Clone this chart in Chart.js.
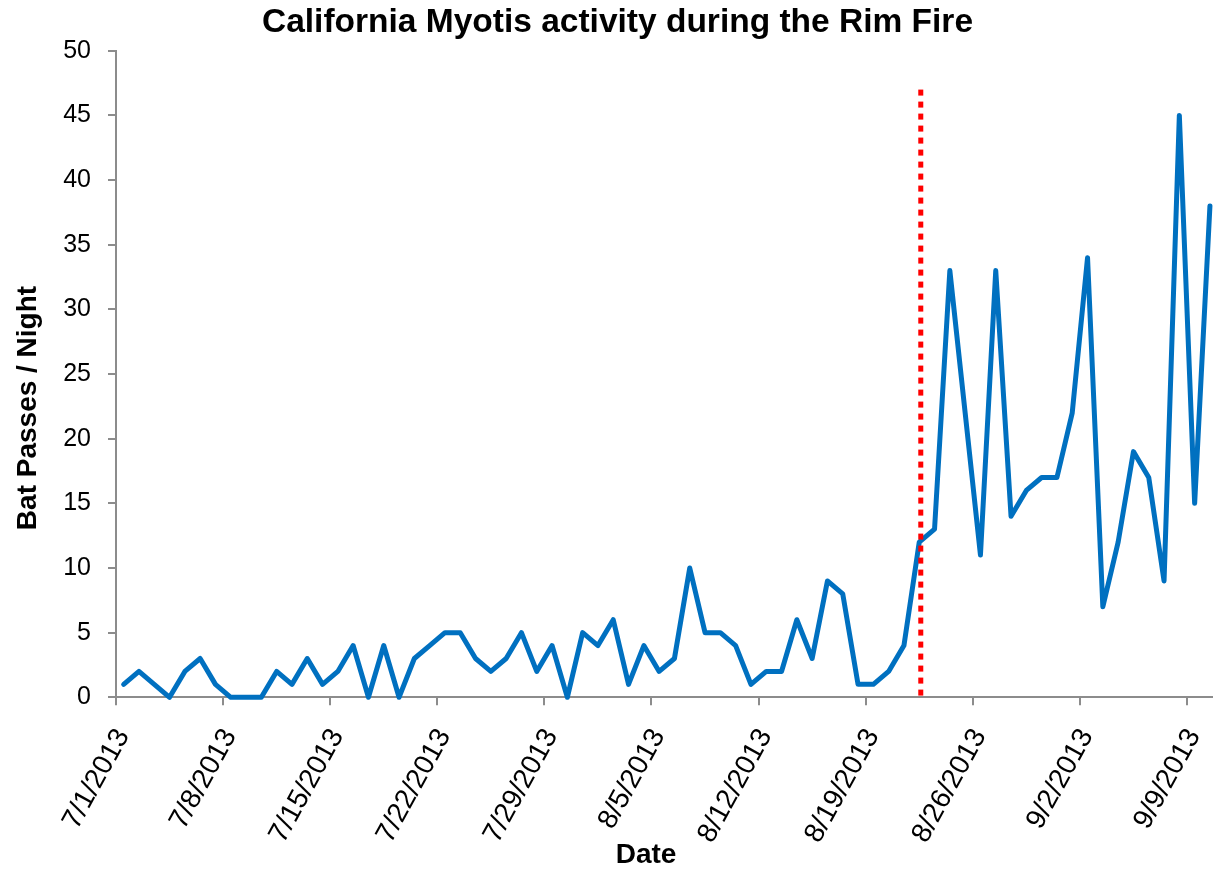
<!DOCTYPE html>
<html>
<head>
<meta charset="utf-8">
<title>California Myotis activity during the Rim Fire</title>
<script src="https://cdn.jsdelivr.net/npm/chart.js@4.4.1/dist/chart.umd.min.js"></script>
<style>
  html, body { margin: 0; padding: 0; background: #ffffff; }
  #wrap { width: 1213px; height: 870px; }
</style>
</head>
<body>
<div id="wrap"><canvas id="chart" width="1213" height="870"></canvas></div>
<script>
// Nightly detector results, one entry per night.
const nightDates = [
  '7/1/2013','7/2/2013','7/3/2013','7/4/2013','7/5/2013','7/6/2013','7/7/2013',
  '7/8/2013','7/9/2013','7/10/2013','7/11/2013','7/12/2013','7/13/2013','7/14/2013',
  '7/15/2013','7/16/2013','7/17/2013','7/18/2013','7/19/2013','7/20/2013','7/21/2013',
  '7/22/2013','7/23/2013','7/24/2013','7/25/2013','7/26/2013','7/27/2013','7/28/2013',
  '7/29/2013','7/30/2013','7/31/2013','8/1/2013','8/2/2013','8/3/2013','8/4/2013',
  '8/5/2013','8/6/2013','8/7/2013','8/8/2013','8/9/2013','8/10/2013','8/11/2013',
  '8/12/2013','8/13/2013','8/14/2013','8/15/2013','8/16/2013','8/17/2013','8/18/2013',
  '8/19/2013','8/20/2013','8/21/2013','8/22/2013','8/23/2013','8/24/2013','8/25/2013',
  '8/26/2013','8/27/2013','8/28/2013','8/29/2013','8/30/2013','8/31/2013','9/1/2013',
  '9/2/2013','9/3/2013','9/4/2013','9/5/2013','9/6/2013','9/7/2013','9/8/2013',
  '9/9/2013','9/10/2013'
];

const batPasses = [
  1, 2, 1, 0, 2, 3, 1,
  0, 0, 0, 2, 1, 3, 1,
  2, 4, 0, 4, 0, 3, 4,
  5, 5, 3, 2, 3, 5, 2,
  4, 0, 5, 4, 6, 1, 4,
  2, 3, 10, 5, 5, 4, 1,
  2, 2, 6, 3, 9, 8, 1,
  1, 2, 4, 12, 13, 33, 22,
  11, 33, 14, 16, 17, 17, 22,
  34, 7, 12, 19, 17, 9, 45,
  15, 38
];

// Weekly date labels along the bottom axis.
const axisTickDates = [
  '7/1/2013', '7/8/2013', '7/15/2013', '7/22/2013', '7/29/2013', '8/5/2013',
  '8/12/2013', '8/19/2013', '8/26/2013', '9/2/2013', '9/9/2013'
];

// Rim Fire reaches the site: marker line and its height.
const fireStartDate = '8/22/2013';
const fireMarkerTop = 47;

const yAxisMin = 0;
const yAxisMax = 50;
const yAxisStep = 5;

const chartTitle = 'California Myotis activity during the Rim Fire';
const xAxisTitle = 'Date';
const yAxisTitle = 'Bat Passes / Night';

// Days since the first night; each night sits in the middle of its day slot.
function dayOffset(dateStr) {
  const [m, d, y] = dateStr.split('/').map(Number);
  const [m0, d0, y0] = nightDates[0].split('/').map(Number);
  return Math.round((Date.UTC(y, m - 1, d) - Date.UTC(y0, m0 - 1, d0)) / 86400000);
}
// The axis ends part-way through the slot after the last night.
const xAxisMax = dayOffset(nightDates[nightDates.length - 1]) + 0.7;

const seriesPoints = nightDates.map((d, i) => ({ x: dayOffset(d) + 0.5, y: batPasses[i] }));
const fireX = dayOffset(fireStartDate) + 0.6;
const fireLine = [{ x: fireX, y: fireMarkerTop }, { x: fireX, y: yAxisMin }];
const tickDays = axisTickDates.map(dayOffset);

const FONT = "'Liberation Sans', Arial, Helvetica, sans-serif";
const AXIS_GREY = '#8c8c8c';

// Axis titles drawn at fixed spots beside the plot.
const axisTitles = {
  id: 'axisTitles',
  afterDraw(chart) {
    const ctx = chart.ctx;
    ctx.save();
    ctx.fillStyle = '#000000';
    ctx.font = 'bold 28px ' + FONT;
    ctx.textAlign = 'center';
    ctx.textBaseline = 'middle';
    ctx.fillText(xAxisTitle, 646, 855);
    ctx.translate(28, 408);
    ctx.rotate(-Math.PI / 2);
    ctx.fillText(yAxisTitle, 0, 0);
    ctx.restore();
  }
};

new Chart(document.getElementById('chart'), {
  type: 'line',
  data: {
    datasets: [
      {
        label: 'Rim Fire',
        data: fireLine,
        borderColor: '#ff0000',
        borderWidth: 5,
        borderDash: [6, 6],
        borderCapStyle: 'butt',
        pointRadius: 0,
        fill: false,
        order: 0
      },
      {
        label: yAxisTitle,
        data: seriesPoints,
        borderColor: '#0070c0',
        borderWidth: 5,
        borderCapStyle: 'round',
        borderJoinStyle: 'round',
        tension: 0,
        pointRadius: 0,
        fill: false,
        clip: false,
        order: 1
      }
    ]
  },
  plugins: [axisTitles],
  options: {
    responsive: false,
    animation: false,
    devicePixelRatio: 1,
    layout: { padding: { left: 22, right: 0, top: 0, bottom: 0 } },
    plugins: {
      legend: { display: false },
      tooltip: { enabled: false },
      title: {
        display: true,
        text: chartTitle,
        color: '#000000',
        font: { family: FONT, size: 33.5, weight: 'bold', lineHeight: 1.2 },
        padding: { top: 3, bottom: 7.6 }
      }
    },
    scales: {
      x: {
        type: 'linear',
        min: 0,
        max: xAxisMax,
        afterBuildTicks: (scale) => { scale.ticks = tickDays.map(v => ({ value: v })); },
        afterFit: (scale) => {
          scale.height = 172.7;
          scale.paddingLeft = 0;
          scale.paddingRight = 0;
        },
        border: { display: true, color: AXIS_GREY, width: 2 },
        grid: { display: true, drawOnChartArea: false, drawTicks: true, tickLength: 8, color: AXIS_GREY, lineWidth: 2 },
        ticks: {
          autoSkip: false,
          minRotation: 61,
          maxRotation: 61,
          padding: 18,
          labelOffset: 7,
          color: '#000000',
          font: { family: FONT, size: 28 },
          callback: (value) => {
            const i = tickDays.indexOf(value);
            return i >= 0 ? axisTickDates[i] : '';
          }
        },
        title: { display: false }
      },
      y: {
        type: 'linear',
        min: yAxisMin,
        max: yAxisMax,
        afterFit: (scale) => { scale.width = 94; },
        border: { display: true, color: AXIS_GREY, width: 2 },
        grid: { display: true, drawOnChartArea: false, drawTicks: true, tickLength: 8, color: AXIS_GREY, lineWidth: 2 },
        ticks: {
          stepSize: yAxisStep,
          padding: 17,
          color: '#000000',
          font: { family: FONT, size: 25 }
        },
        title: { display: false }
      }
    }
  }
});
</script>
</body>
</html>
